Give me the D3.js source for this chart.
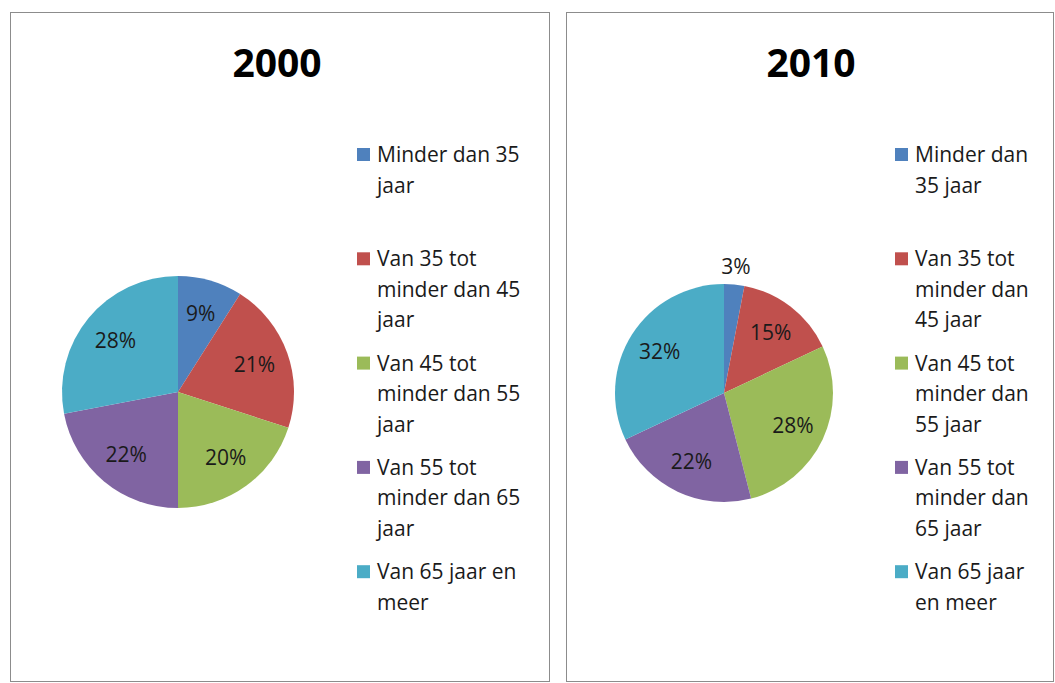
<!DOCTYPE html>
<html>
<head>
<meta charset="utf-8">
<script src="https://cdn.jsdelivr.net/npm/d3@7"></script>
<style>
  body { margin: 0; background: #fff; }
  svg { display: block; font-family: "Open Sans", sans-serif; }
</style>
</head>
<body>
<svg id="chart"></svg>
<script>
const WIDTH = 1055, HEIGHT = 683;

// data
const categories = [
    "Minder dan 35 jaar",
    "Van 35 tot minder dan 45 jaar",
    "Van 45 tot minder dan 55 jaar",
    "Van 55 tot minder dan 65 jaar",
    "Van 65 jaar en meer"
];
const years = ["2000", "2010"];
const values2000 = [9, 21, 20, 22, 28];
const values2010 = [3, 15, 28, 22, 32];
const colors = ["#4f81bd", "#c0504d", "#9bbb59", "#8064a2", "#4bacc6"];

const svg = d3.select("svg#chart")
    .attr("width", WIDTH)
    .attr("height", HEIGHT);

const color = d3.scaleOrdinal().domain(categories).range(colors);

// one panel per year
const panels = [
    { year: years[0], values: values2000, x: 10, w: 539, cx: 178, cy: 392, r: 116, titleX: 277, legendX: 357, legendW: 160 },
    { year: years[1], values: values2010, x: 566, w: 487, cx: 724, cy: 393, r: 109, titleX: 811, legendX: 895, legendW: 125 }
];

const pie = d3.pie().sort(null).value(d => d.value);

// wrap text into tspans by measured width
function wrap(textSel, maxW, lineH) {
    textSel.each(function () {
        const text = d3.select(this);
        const words = text.text().split(" ");
        const x = text.attr("x");
        text.text(null);
        let line = [];
        let tspan = text.append("tspan").attr("x", x).attr("dy", 0);
        words.forEach(w => {
            line.push(w);
            tspan.text(line.join(" "));
            if (tspan.node().getComputedTextLength() > maxW && line.length > 1) {
                line.pop();
                tspan.text(line.join(" "));
                line = [w];
                tspan = text.append("tspan").attr("x", x).attr("dy", lineH).text(w);
            }
        });
    });
}

panels.forEach(p => {
    const g = svg.append("g");

    g.append("rect")
        .attr("x", p.x + 0.5)
        .attr("y", 12.5)
        .attr("width", p.w)
        .attr("height", 669)
        .attr("fill", "#fff")
        .attr("stroke", "#8c8c8c")
        .attr("stroke-width", 1);

    g.append("text")
        .attr("x", p.titleX)
        .attr("y", 77)
        .attr("text-anchor", "middle")
        .attr("font-size", 39)
        .attr("font-weight", "bold")
        .attr("fill", "#000")
        .text(p.year);

    const data = categories.map((c, i) => ({ cat: c, value: p.values[i] }));
    const arcs = pie(data);

    const arc = d3.arc().innerRadius(0).outerRadius(p.r);
    const labelArc = d3.arc().innerRadius(p.r * 0.7).outerRadius(p.r * 0.7);
    const outerArc = d3.arc().innerRadius(p.r * 1.16).outerRadius(p.r * 1.16);

    const pieG = g.append("g")
        .attr("transform", `translate(${p.cx}, ${p.cy})`);

    pieG.selectAll("path.slice")
        .data(arcs)
        .join("path")
            .attr("class", "slice")
            .attr("d", arc)
            .attr("fill", d => color(d.data.cat));

    // small slices get their label outside the pie
    pieG.selectAll("text.label")
        .data(arcs)
        .join("text")
            .attr("class", "label")
            .attr("transform", d => `translate(${(d.data.value < 5 ? outerArc : labelArc).centroid(d)})`)
            .attr("text-anchor", "middle")
            .attr("dy", "0.35em")
            .attr("font-size", 21)
            .attr("fill", "#1a1a1a")
            .text(d => d.data.value + "%");

    // legend
    const legend = g.append("g");
    const item = legend.selectAll("g.item")
        .data(categories)
        .join("g")
            .attr("class", "item")
            .attr("transform", (d, i) => `translate(${p.legendX}, ${155 + i * 104.3})`);

    item.append("rect")
        .attr("x", 0)
        .attr("y", -7)
        .attr("width", 13)
        .attr("height", 13)
        .attr("fill", d => color(d));

    item.append("text")
        .attr("x", 20)
        .attr("y", 7)
        .attr("font-size", 21)
        .attr("fill", "#1a1a1a")
        .text(d => d)
        .call(wrap, p.legendW, 30.5);
});
</script>
</body>
</html>
